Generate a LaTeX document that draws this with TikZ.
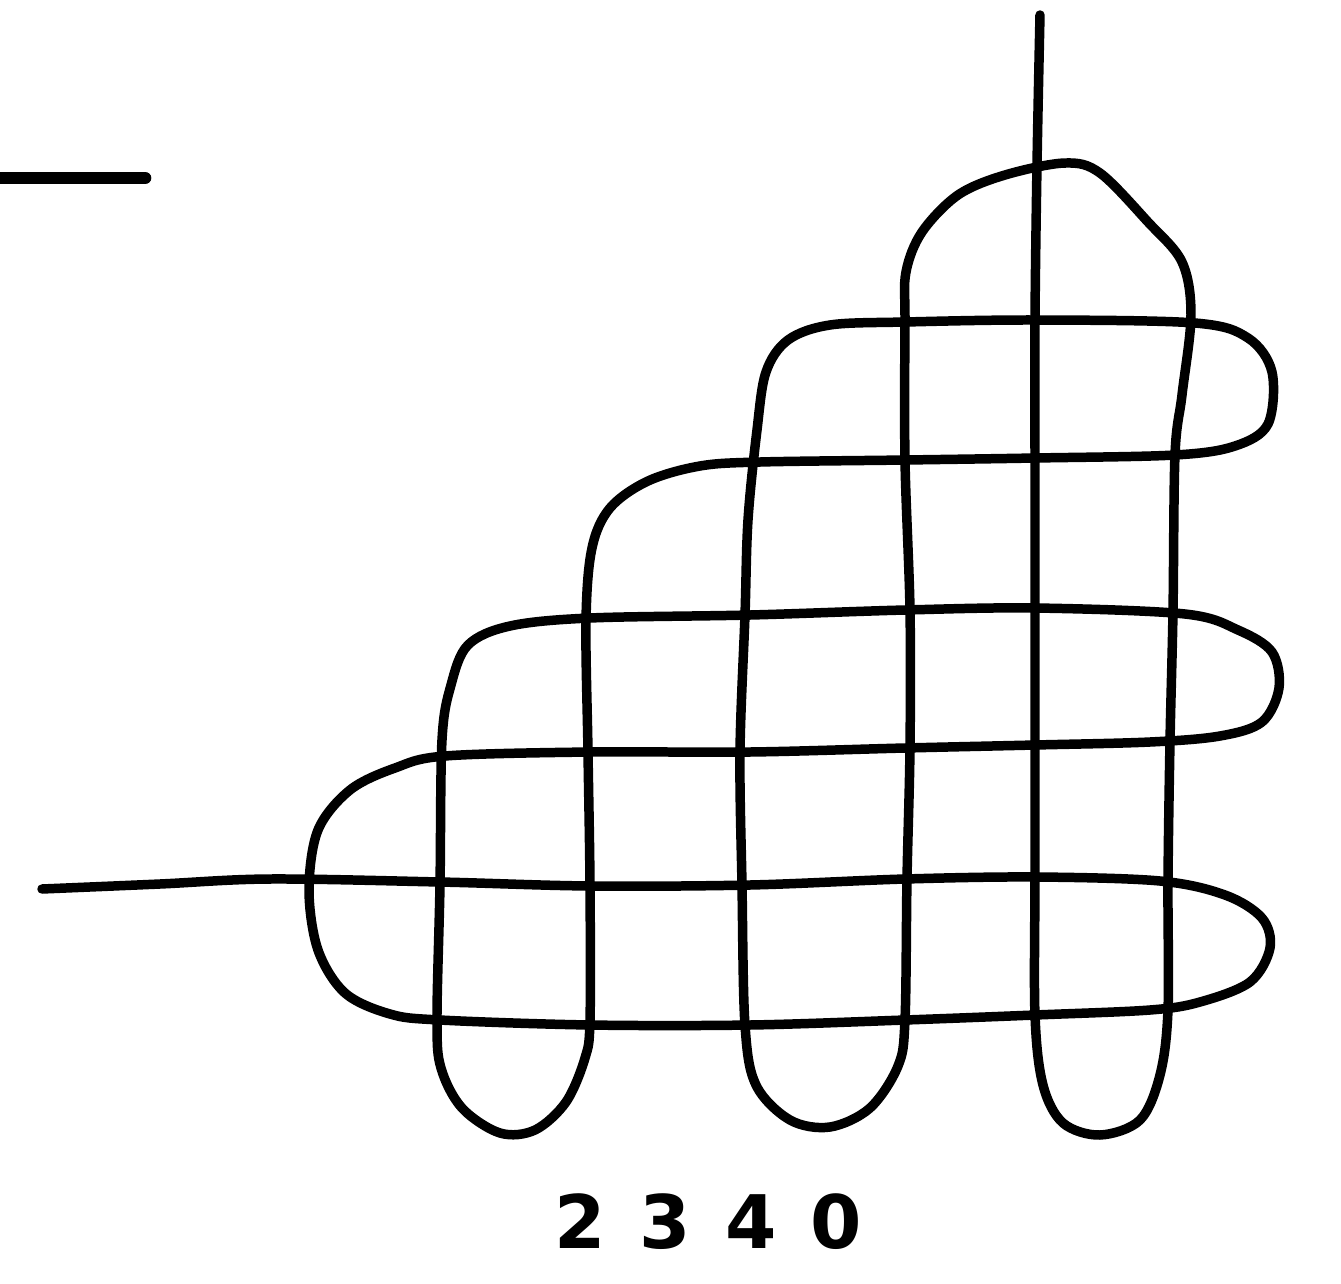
\documentclass[tikz,border=0pt]{standalone}
\usepackage{fontspec}
\setmainfont{DejaVu Sans}
\begin{document}
\begin{tikzpicture}[x=0.01cm,y=-0.01cm,
  strand/.style={line width=2.7pt,line join=round,line cap=round},
  label/.style={font=\fontsize{21}{24}\selectfont\bfseries,inner sep=0pt}]
\useasboundingbox (0,0) rectangle (1341,1284);
% short separate stroke, top left
\draw[line width=3.6pt,line cap=round] (0,178) -- (145,178);
% the single knotted strand
\draw[strand] plot[smooth,tension=0.55] coordinates {
(42,889) (160,884) (270,879) (440,882) (590,886) (750,885) (905,879)
(1035,877) (1160,881) (1225,895) (1262,918) (1270,948) (1250,982) (1200,1002)
(1150,1010) (1035,1015) (905,1020) (750,1025) (590,1025) (440,1020) (390,1014)
(345,993) (318,950) (309,890) (318,830) (350,790) (395,768) (445,756)
(590,752) (750,752) (905,748) (1035,745) (1150,742) (1220,736) (1262,722)
(1279,688) (1272,652) (1238,630) (1185,614) (1035,608) (905,610)
(750,615) (590,618) (510,626) (468,645) (451,685) (442,740)
(440,885) (437,1020) (441,1068) (462,1108) (500,1133) (535,1130) (566,1102)
(585,1058) (590,1020) (590,885) (588,752) (586,620) (592,548) (610,508)
(648,481) (700,466) (760,462) (905,460) (1035,458) (1175,455) (1235,446)
(1268,424) (1272,372) (1248,338) (1195,323) (1035,320) (905,322)
(830,325) (788,340) (766,372) (757,430) (748,520) (745,615) (740,752)
(742,885) (745,1025) (756,1085) (790,1120) (830,1127) (870,1108) (898,1066)
(905,1020) (907,879) (910,748) (910,610) (905,460) (905,322) (906,272)
(922,232) (958,195) (1005,175) (1065,163) (1100,173) (1148,222) (1182,262)
(1191,315) (1182,395) (1175,455) (1173,612) (1170,742) (1168,882) (1168,1010)
(1160,1075) (1140,1120) (1100,1135) (1063,1123) (1043,1085) (1035,1015)
(1035,877) (1035,745) (1035,608) (1035,458) (1035,320) (1037,165) (1040,15)};
\node[label] (num) at (708,1222) {2\kern3.4mm 3\kern3.4mm 4\kern3.4mm 0};
\end{tikzpicture}
\end{document}
